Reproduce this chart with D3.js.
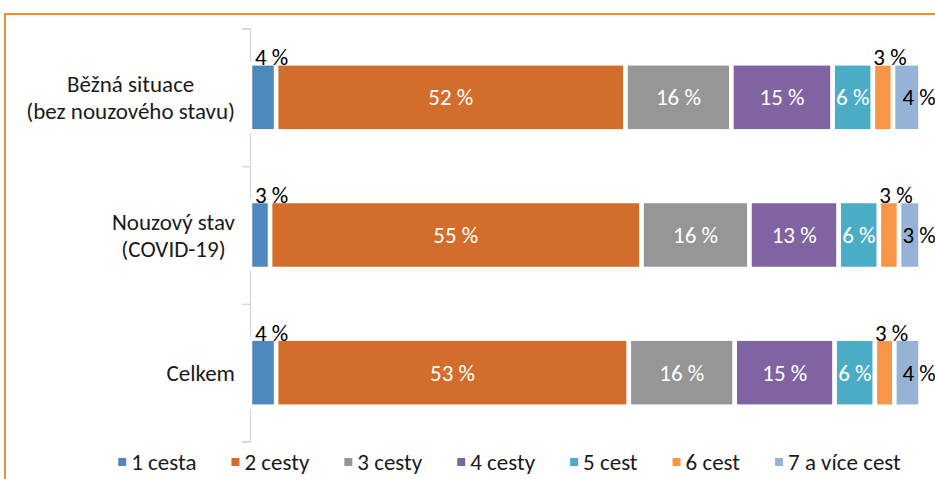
<!DOCTYPE html>
<html>
<head>
<meta charset="utf-8">
<script src="https://cdn.jsdelivr.net/npm/d3@7"></script>
<style>
  body { margin: 0; background: #fff; }
  svg { display: block; font-family: Carlito, Calibri, Lato, sans-serif; }
</style>
</head>
<body>
<script>
// categories (multi-line labels) and series
var categories = ["Běžná situace|(bez nouzového stavu)", "Nouzový stav|(COVID-19)", "Celkem"];
var seriesNames = ["1 cesta", "2 cesty", "3 cesty", "4 cesty", "5 cest", "6 cest", "7 a více cest"];
var seriesColors = ["#4e89be", "#d36d2b", "#969696", "#8064a2", "#4bacc6", "#f79646", "#95b3d7"];

// shares in % per category, in series order
var valuesBezna = [3.9, 52.1, 15.8, 15.1, 6.0, 3.0, 4.1];
var valuesNouzovy = [3.0, 55.4, 16.1, 13.3, 6.0, 3.0, 3.2];
var valuesCelkem = [3.9, 52.6, 15.8, 14.9, 6.0, 2.9, 3.9];

var rows = [valuesBezna, valuesNouzovy, valuesCelkem];

var width = 935, height = 479;
var fs = 23;

var svg = d3.select("body")
  .append("svg")
    .attr("width", width)
    .attr("height", height);

// orange frame of the chart object
svg.append("rect")
  .attr("x", 5)
  .attr("y", 14)
  .attr("width", 1100)
  .attr("height", 700)
  .attr("fill", "none")
  .attr("stroke", "#e39236")
  .attr("stroke-width", 2);

var x = d3.scaleLinear().domain([0, 100]).range([250, 920.5]);
var y = d3.scaleBand().domain(categories).range([28.5, 441.5])
  .paddingInner(0.506).paddingOuter(0.253);

// stacked data
var stacked = rows.map(function(vals, r) {
  var acc = 0;
  return vals.map(function(v, i) {
    var d = { cat: categories[r], series: i, value: v, x0: acc, x1: acc + v };
    acc += v;
    return d;
  });
});
var segs = [].concat.apply([], stacked);

// axis line with ticks between categories
var axis = d3.axisLeft(d3.scaleLinear().domain([0, 3]).range([28.5, 441.5]))
  .ticks(3)
  .tickSize(8)
  .tickFormat("");
var axisG = svg.append("g")
  .attr("transform", "translate(250,0)")
  .call(axis);
axisG.selectAll("path, line")
  .attr("stroke", "#d9d9d9")
  .attr("stroke-width", 1.5);

// bars
svg.append("g").selectAll("rect")
  .data(segs)
  .enter()
.append("rect")
  .attr("x", function(d) { return x(d.x0); })
  .attr("y", function(d) { return y(d.cat); })
  .attr("width", function(d) { return x(d.x1) - x(d.x0); })
  .attr("height", y.bandwidth())
  .attr("fill", function(d) { return seriesColors[d.series]; })
  .attr("stroke", "#fff")
  .attr("stroke-width", 4.5);

// value labels
function labelX(d) {
  if (d.series === 0) return x(d.x0) + 5;
  if (d.series === 5) return (x(d.x0) + x(d.x1)) / 2 + 7;
  if (d.series === 6) return x(d.x1) - 18;
  return (x(d.x0) + x(d.x1)) / 2;
}
function labelY(d) {
  if (d.series === 0 || d.series === 5) return y(d.cat) + 2;
  return y(d.cat) + y.bandwidth() / 2 + 8;
}
svg.append("g").selectAll("text")
  .data(segs)
  .enter()
.append("text")
  .attr("x", labelX)
  .attr("y", labelY)
  .attr("text-anchor", function(d) { return (d.series === 0 || d.series === 6) ? "start" : "middle"; })
  .attr("font-size", fs)
  .attr("fill", function(d) { return (d.series === 0 || d.series >= 5) ? "#000" : "#fff"; })
  .text(function(d) { return Math.round(d.value) + " %"; });

// category labels, lines centred in a box right-aligned at 235
categories.forEach(function(c) {
  var lines = c.split("|");
  var g = svg.append("g");
  var texts = lines.map(function(l, i) {
    return g.append("text")
      .attr("font-size", fs)
      .attr("fill", "#1a1a1a")
      .attr("text-anchor", "middle")
      .attr("y", y(c) + y.bandwidth() / 2 + 8 + (i - (lines.length - 1) / 2) * 27)
      .text(l);
  });
  var maxW = d3.max(texts, function(t) { return t.node().getComputedTextLength(); });
  texts.forEach(function(t) { t.attr("x", 235 - maxW / 2); });
});

// legend
var legend = svg.append("g");
var cursor = 0;
seriesNames.forEach(function(name, i) {
  var item = legend.append("g").attr("transform", "translate(" + cursor + ",0)");
  item.append("rect")
    .attr("x", 0)
    .attr("y", 458)
    .attr("width", 8)
    .attr("height", 8)
    .attr("fill", seriesColors[i]);
  var t = item.append("text")
    .attr("x", 13)
    .attr("y", 470)
    .attr("font-size", fs)
    .attr("fill", "#1a1a1a")
    .text(name);
  cursor += 13 + t.node().getComputedTextLength() + 35;
});
var legendW = cursor - 35;
legend.attr("transform", "translate(" + (509.5 - legendW / 2) + ",0)");
</script>
</body>
</html>
